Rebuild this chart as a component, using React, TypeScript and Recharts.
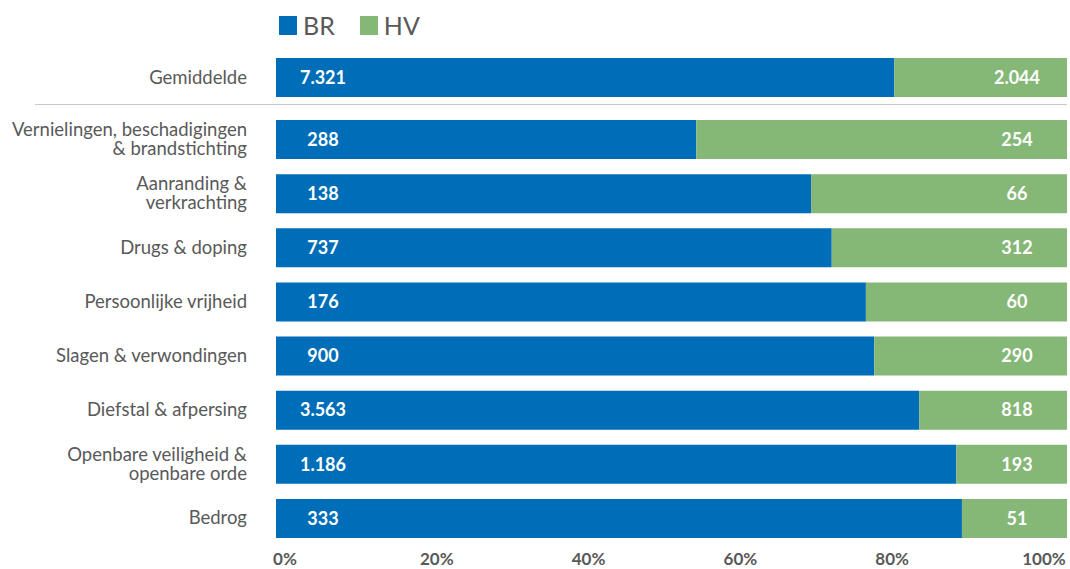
import React from "react";
import { BarChart, Bar, XAxis, YAxis, LabelList } from "recharts";

const averageLabel = ["Gemiddelde"];
const averageBR = [7321];
const averageHV = [2044];

const categories = [
  "Vernielingen, beschadigingen\n& brandstichting",
  "Aanranding &\nverkrachting",
  "Drugs & doping",
  "Persoonlijke vrijheid",
  "Slagen & verwondingen",
  "Diefstal & afpersing",
  "Openbare veiligheid &\nopenbare orde",
  "Bedrog",
];
const brValues = [288, 138, 737, 176, 900, 3563, 1186, 333];
const hvValues = [254, 66, 312, 60, 290, 818, 193, 51];
const xTicks = [0, 0.2, 0.4, 0.6, 0.8, 1];

const BLUE = "#006db8";
const GREEN = "#85b776";
const GREY = "#595959";
const FONT = "Lato, 'Open Sans', sans-serif";

const averageData = averageLabel.map((name, i) => ({ name, br: averageBR[i], hv: averageHV[i] }));
const data = categories.map((name, i) => ({ name, br: brValues[i], hv: hvValues[i] }));

const fmt = (v: number) => String(v).replace(/\B(?=(\d{3})+(?!\d))/g, ".");

function CategoryTick(props: any) {
  const { x, y, payload } = props;
  const lines = String(payload.value).split("\n");
  const lh = 19;
  const start = -((lines.length - 1) * lh) / 2;
  return (
    <text x={x} y={y} textAnchor="end" fill={GREY} fontSize={18.5} fontFamily={FONT}>
      {lines.map((l, i) => (
        <tspan key={i} x={x} dy={i === 0 ? start + 6.5 : lh}>
          {l}
        </tspan>
      ))}
    </text>
  );
}

function PercentTick(props: any) {
  const { x, y, payload } = props;
  // excel squeezes the tick labels a bit inwards
  const dx = 9 - payload.value * 32;
  return (
    <text x={x + dx} y={y} dy="0.71em" textAnchor="middle" fill={GREY} fontSize={17} fontWeight={700} fontFamily={FONT}>
      {Math.round(payload.value * 100)}%
    </text>
  );
}

function BaseLabel(props: any) {
  const { x, y, height, value } = props;
  return (
    <text x={x + 47} y={y + height / 2} dy="0.35em" textAnchor="middle" fill="#fff" fontSize={18} fontWeight={700} fontFamily={FONT}>
      {fmt(value)}
    </text>
  );
}

function EndLabel(props: any) {
  const { x, y, width, height, value } = props;
  return (
    <text x={x + width - 50} y={y + height / 2} dy="0.35em" textAnchor="middle" fill="#fff" fontSize={18} fontWeight={700} fontFamily={FONT}>
      {fmt(value)}
    </text>
  );
}

function Bars() {
  return [
    <Bar key="br" dataKey="br" stackId="a" fill={BLUE} barSize={39} isAnimationActive={false}>
      <LabelList dataKey="br" content={<BaseLabel />} />
    </Bar>,
    <Bar key="hv" dataKey="hv" stackId="a" fill={GREEN} barSize={39} isAnimationActive={false}>
      <LabelList dataKey="hv" content={<EndLabel />} />
    </Bar>,
  ];
}

export default function App() {
  return (
    <div style={{ position: "absolute", left: 0, top: 0, width: 1070, height: 569, background: "#fff", fontFamily: FONT }}>
      <div style={{ position: "absolute", left: 279, top: 10, display: "flex", alignItems: "center", color: GREY, fontSize: 25 }}>
        <span style={{ width: 18, height: 19, background: BLUE, display: "inline-block", marginRight: 6 }} />
        <span style={{ marginRight: 25 }}>BR</span>
        <span style={{ width: 18, height: 19, background: GREEN, display: "inline-block", marginRight: 6 }} />
        <span>HV</span>
      </div>

      <div style={{ position: "absolute", left: 0, top: 0 }}>
        <BarChart width={1070} height={104} data={averageData} layout="vertical" stackOffset="expand"
          margin={{ top: 50, right: 3, bottom: 0, left: 0 }} barCategoryGap={0}>
          <XAxis type="number" hide domain={[0, 1]} />
          <YAxis type="category" dataKey="name" width={276} axisLine={false} tickLine={false}
            tickSize={0} tickMargin={29} tick={<CategoryTick />} />
          {Bars()}
        </BarChart>
      </div>

      <div style={{ position: "absolute", left: 35, top: 104, width: 1032, height: 1, background: "#c8c8c8" }} />

      <div style={{ position: "absolute", left: 0, top: 104 }}>
        <BarChart width={1070} height={465} data={data} layout="vertical" stackOffset="expand"
          margin={{ top: 8, right: 3, bottom: 0, left: 0 }}>
          <XAxis type="number" domain={[0, 1]} ticks={xTicks} height={24} axisLine={false} tickLine={false}
            tickSize={0} tickMargin={8} tick={<PercentTick />} interval={0} />
          <YAxis type="category" dataKey="name" width={276} axisLine={false} tickLine={false}
            tickSize={0} tickMargin={29} tick={<CategoryTick />} interval={0} />
          {Bars()}
        </BarChart>
      </div>
    </div>
  );
}
